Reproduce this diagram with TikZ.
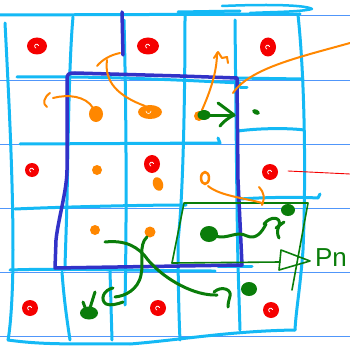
\documentclass[tikz,border=0pt]{standalone}
\usepackage{fontspec}
\setmainfont{Liberation Sans}
\definecolor{gridc}{RGB}{20,185,245}
\definecolor{noteb}{RGB}{80,150,250}
\definecolor{rectb}{RGB}{50,50,200}
\definecolor{redc}{RGB}{245,0,0}
\definecolor{orc}{RGB}{255,135,0}
\definecolor{grc}{RGB}{10,125,10}
\begin{document}
\begin{tikzpicture}[x=1pt,y=-1pt,line cap=round,line join=round,
  notebook/.style={noteb,line width=0.9pt},
  gridline/.style={gridc,line width=3pt},
  bluerect/.style={rectb,line width=3.5pt},
  orline/.style={orc,line width=2pt},
  grline/.style={grc,line width=3pt},
  grthin/.style={grc,line width=1.6pt},
  swirl/.style={white,line width=0.8pt}]
\useasboundingbox (0,0) rectangle (350,350);
\fill[white] (0,0) rectangle (350,350);
% notebook lines
\foreach \y in {15,80,144,208,272,336} \draw[notebook] (0,\y) -- (350,\y);
% cyan grid: horizontals
\draw[gridline] (0,15) -- (300,14);
\draw[gridline] (178,12) -- (240,11);
\draw[gridline,line width=2.5pt] (222,6) .. controls (270,4) and (306,5) .. (312,9) .. controls (300,12) and (270,12) .. (250,13);
\draw[gridline] (17,77) .. controls (100,76) and (180,80) .. (240,83);
\draw[gridline] (235,78) -- (303,79);
\draw[gridline] (240,88) -- (247,88);
\draw[gridline] (20,144) -- (220,143) -- (218,138);
\draw[gridline] (238,131) .. controls (260,128) and (290,128) .. (304,130);
\draw[gridline] (15,209) .. controls (60,207) and (140,205) .. (186,205);
\draw[gridline] (240,199) .. controls (270,197) and (300,197) .. (318,198) -- (320,194);
\draw[gridline] (10,270) .. controls (60,268) and (150,271) .. (215,271);
\draw[gridline] (218,266) -- (252,266);
\draw[gridline] (8,340) .. controls (50,346) and (90,343) .. (130,344) .. controls (180,340) and (230,331) .. (295,330);
% cyan grid: verticals
\draw[gridline] (5,23) .. controls (9,100) and (13,180) .. (13,250) .. controls (13,300) and (10,330) .. (8,340);
\draw[gridline] (73,17) .. controls (69,60) and (68,150) .. (67,200) .. controls (66,240) and (65,260) .. (65,270);
\draw[gridline] (62,272) .. controls (64,300) and (67,320) .. (70,340);
\draw[gridline] (124,20) .. controls (126,100) and (127,200) .. (125,305);
\draw[gridline] (110,271) -- (112,340);
\draw[gridline] (185,15) .. controls (185,100) and (183,200) .. (178,240) .. controls (178,280) and (179,320) .. (180,340);
\draw[gridline] (235,20) .. controls (236,120) and (237,220) .. (238,265) -- (240,330);
\draw[gridline] (298,15) .. controls (305,80) and (306,180) .. (303,250) .. controls (300,290) and (296,310) .. (295,330);
% blue rectangle
\draw[bluerect] (122,12) -- (123,55);
\draw[bluerect] (55,268) -- (56,240) .. controls (58,220) and (67,190) .. (67,170) -- (67,80) .. controls (67,74) and (68,73) .. (75,73) -- (180,76) -- (237,78) -- (238,180) -- (242,265) -- cycle;
% green rectangle and open head
\draw[grthin] (172,263) -- (184,203) -- (308,203) -- (292,290);
\draw[grthin] (172,263) -- (280,262);
\draw[grthin] (281,250) -- (310,261) -- (279,270) -- cycle;
\node[text=grc,font=\fontsize{26}{26}\selectfont,inner sep=0pt] (pn) at (331,258) {Pn};
% red thin line
\draw[redc,line width=0.9pt] (288,171) -- (350,174);
% red blobs
\foreach \x/\y/\rx/\ry in {37/46/10/8.5,148/46/11/8.5,268/47/8/9.5,32/170/7/7,152/164/8/9,270/172/8/8,30/308/8/8,158/308/8/8,271/310/8/8}{
  \fill[redc] (\x,\y) ellipse [x radius=\rx pt,y radius=\ry pt];
  \draw[swirl] (\x+1.5,\y-0.5) arc[start angle=20,end angle=250,radius=2pt];
}
% orange dots
\fill[orc] (96,114) ellipse [x radius=7pt,y radius=8pt];
\fill[orc] (150,112) ellipse [x radius=12pt,y radius=7pt];
\draw[white,line width=0.6pt] (146,111) arc[start angle=180,end angle=360,radius=2.5pt];
\fill[orc] (97,170) circle [radius=5pt];
\fill[orc,rotate around={20:(158,184)}] (158,184) ellipse [x radius=5pt,y radius=7pt];
\fill[orc] (95,230) circle [radius=5pt];
\fill[orc] (150,232) circle [radius=5.5pt];
\fill[orc] (199,116) circle [radius=5pt];
\draw[orc,line width=2.5pt] (205,178) ellipse [x radius=4pt,y radius=6pt];
% orange arrows
\draw[orline] (145,106) .. controls (118,96) and (104,82) .. (107,60);
\draw[orline] (97,66) .. controls (102,60) and (110,55) .. (120,53);
\draw[orline] (93,108) .. controls (86,96) and (68,94) .. (53,98);
\draw[orline] (50,93) .. controls (44,97) and (42,104) .. (47,107);
\draw[orline] (202,110) .. controls (210,92) and (217,72) .. (217,53);
\draw[orline] (214,58) -- (218,52) -- (222,58) -- (227,57) -- (228,63);
\draw[orline] (233,93) .. controls (250,68) and (300,57) .. (350,43);
\draw[orline] (208,186) .. controls (220,196) and (245,198) .. (262,203);
\draw[orline] (262,205) .. controls (265,198) and (264,192) .. (259,187);
% green dots
\fill[grc] (204,115) ellipse [x radius=6.5pt,y radius=5pt];
\fill[grc,rotate around={-25:(256,112)}] (256,112) ellipse [x radius=4pt,y radius=2.5pt];
\fill[grc] (209,234) ellipse [x radius=9pt,y radius=8pt];
\fill[grc] (288,210) ellipse [x radius=7pt,y radius=6pt];
\fill[grc] (249,289) ellipse [x radius=8pt,y radius=7pt];
\fill[grc] (89,313) ellipse [x radius=9pt,y radius=6.5pt];
\draw[grline] (90,308) -- (95,292);
\draw[grline] (86,310) -- (83,302);
% green arrows
\draw[grline] (206,115) -- (234,115);
\draw[grline] (218,103) .. controls (225,108) and (230,112) .. (234,115) .. controls (228,118) and (223,122) .. (220,126);
\draw[grline] (215,236) .. controls (228,240) and (236,230) .. (247,236) .. controls (256,240) and (262,232) .. (266,224);
\draw[grline] (264,224) .. controls (270,216) and (282,216) .. (279,226) .. controls (277,230) and (277,234) .. (279,238);
\draw[grline] (276,228) -- (284,222);
\draw[grline] (105,242) .. controls (125,240) and (138,246) .. (148,260) .. controls (165,280) and (195,296) .. (217,295);
\draw[grline] (214,292) .. controls (222,285) and (232,290) .. (230,296) .. controls (229,300) and (228,303) .. (228,307);
\draw[grline] (147,237) .. controls (138,245) and (144,262) .. (141,275) .. controls (138,290) and (125,296) .. (115,297);
\draw[grline] (113,288) .. controls (103,290) and (100,300) .. (106,304) .. controls (110,306) and (118,304) .. (123,302);
\end{tikzpicture}
\end{document}
